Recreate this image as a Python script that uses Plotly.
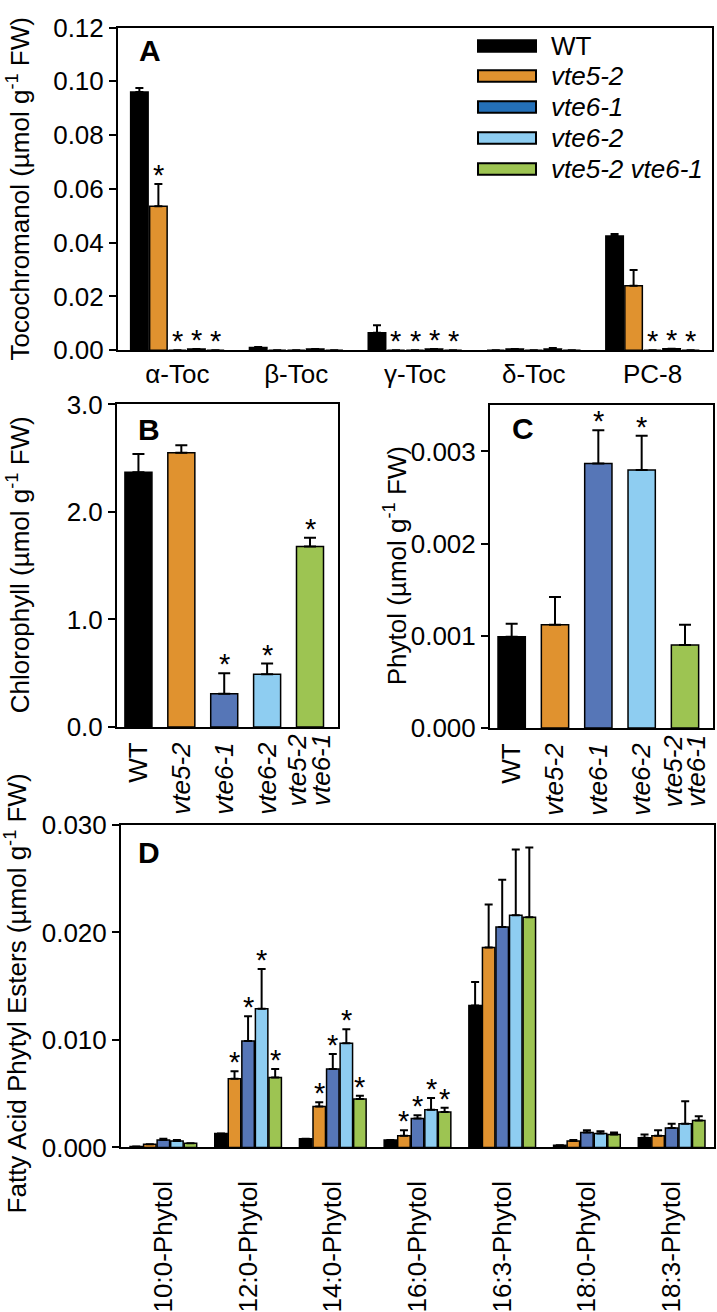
import plotly.graph_objects as go

W, H = 717, 1312
FONT = "Liberation Sans, Arial, sans-serif"

GENOTYPES = ["WT", "vte5-2", "vte6-1", "vte6-2", "vte5-2 vte6-1"]
COLORS = ["#000000", "#E0922F", "#5676B7", "#8ECDF1", "#9DC452"]
LEGEND_COLORS = ["#000000", "#E0922F", "#2470B8", "#8ECDF1", "#9DC452"]

# Panel A: tocochromanols (µmol g-1 FW)
TOC_CATS = ["α-Toc", "β-Toc", "γ-Toc", "δ-Toc", "PC-8"]
TOC_MEAN = {
    "WT": [0.0960, 0.0010, 0.0065, 0.0, 0.0425],
    "vte5-2": [0.0535, 0.0, 0.0, 0.0004, 0.0240],
    "vte6-1": [0.0, 0.0, 0.0, 0.0, 0.0],
    "vte6-2": [0.0004, 0.0004, 0.0004, 0.0004, 0.0005],
    "vte5-2 vte6-1": [0.0, 0.0, 0.0, 0.0, 0.0],
}
TOC_SE = {
    "WT": [0.0015, 0.0002, 0.0028, 0.0, 0.0007],
    "vte5-2": [0.0083, 0.0, 0.0, 0.0, 0.0058],
    "vte6-1": [0.0, 0.0, 0.0, 0.0, 0.0],
    "vte6-2": [0.0, 0.0, 0.0, 0.0004, 0.0],
    "vte5-2 vte6-1": [0.0, 0.0, 0.0, 0.0, 0.0],
}
TOC_SIG = {
    "WT": [0, 0, 0, 0, 0],
    "vte5-2": [1, 0, 1, 0, 0],
    "vte6-1": [1, 0, 1, 0, 1],
    "vte6-2": [1, 0, 1, 0, 1],
    "vte5-2 vte6-1": [1, 0, 1, 0, 1],
}

# Panel B: chlorophyll
CHL_MEAN = [2.37, 2.55, 0.31, 0.49, 1.68]
CHL_SE = [0.17, 0.07, 0.19, 0.10, 0.08]
CHL_SIG = [0, 0, 1, 1, 1]

# Panel C: free phytol
PHY_MEAN = [0.00099, 0.00112, 0.00287, 0.00280, 0.00090]
PHY_SE = [0.00014, 0.00030, 0.00036, 0.00037, 0.00022]
PHY_SIG = [0, 0, 1, 1, 0]

# Panel D: fatty acid phytyl esters
FAPE_CATS = ["10:0-Phytol", "12:0-Phytol", "14:0-Phytol", "16:0-Phytol",
             "16:3-Phytol", "18:0-Phytol", "18:3-Phytol"]
FAPE_MEAN = {
    "WT": [0.0001, 0.0013, 0.0008, 0.0007, 0.0132, 0.0002, 0.0009],
    "vte5-2": [0.0003, 0.0064, 0.0038, 0.0011, 0.0186, 0.0006, 0.0011],
    "vte6-1": [0.0007, 0.0099, 0.0073, 0.0027, 0.0205, 0.0014, 0.0018],
    "vte6-2": [0.0006, 0.0129, 0.0097, 0.0035, 0.0216, 0.0013, 0.0022],
    "vte5-2 vte6-1": [0.0004, 0.0065, 0.0045, 0.0033, 0.0214, 0.0012, 0.0025],
}
FAPE_SE = {
    "WT": [0.0, 0.0, 0.0, 0.0, 0.0022, 0.0, 0.0003],
    "vte5-2": [0.0, 0.0007, 0.0004, 0.0005, 0.0040, 0.0001, 0.0005],
    "vte6-1": [0.0001, 0.0023, 0.0014, 0.0003, 0.0044, 0.0002, 0.0004],
    "vte6-2": [0.0001, 0.0037, 0.0013, 0.0011, 0.0061, 0.0002, 0.0021],
    "vte5-2 vte6-1": [0.0, 0.0008, 0.0003, 0.0004, 0.0065, 0.0002, 0.0004],
}
FAPE_SIG = {
    "WT": [0, 0, 0, 0, 0, 0, 0],
    "vte5-2": [0, 1, 1, 1, 0, 0, 0],
    "vte6-1": [0, 1, 1, 1, 0, 0, 0],
    "vte6-2": [0, 1, 1, 1, 0, 0, 0],
    "vte5-2 vte6-1": [0, 1, 1, 1, 0, 0, 0],
}

BARGAP = 0.2
BARGROUPGAP = 0.08
STAR_SIZE = 29
STAR_SHIFT = -9
FS = 26


def px(x):
    return x / W


def py(y):
    return 1 - y / H


# panel boxes in pixels: (left, right, top, bottom)
BOX_A = (118, 712, 13, 346)
BOX_B = (117, 338, 402, 735)
BOX_C = (490, 713, 403, 736)
BOX_D = (121, 714, 836, 1169)

fig = go.Figure()
annotations = []


def star(xref, yref, x, y, xshift=0):
    annotations.append(dict(
        x=x, y=y, xref=xref, yref=yref, text="*", showarrow=False,
        xshift=xshift, yshift=STAR_SHIFT, yanchor="bottom",
        font=dict(size=STAR_SIZE, color="black", family=FONT),
    ))


def grouped_panel(axis, cats, means, ses, sigs, box, err_width):
    xa, ya = ("x", "y") if axis == 1 else (f"x{axis}", f"y{axis}")
    ncat = len(cats)
    slot = (box[1] - box[0]) / ncat * (1 - BARGAP) / len(GENOTYPES)
    for j, (g, c) in enumerate(zip(GENOTYPES, COLORS)):
        fig.add_trace(go.Bar(
            x=cats, y=means[g], xaxis=xa, yaxis=ya, name=g, offsetgroup=g,
            marker=dict(color=c, line=dict(color="black", width=1.5)),
            error_y=dict(type="data", array=ses[g], arrayminus=[0] * ncat,
                         symmetric=False, color="black", thickness=2, width=err_width),
            showlegend=False, hoverinfo="x+y",
        ))
        for cat, m, s, sig in zip(cats, means[g], ses[g], sigs[g]):
            if sig:
                star(xa, ya, cat, m + s, xshift=(j - 2) * slot)


def single_panel(axis, means, ses, sigs, box):
    xa, ya = f"x{axis}", f"y{axis}"
    fig.add_trace(go.Bar(
        x=GENOTYPES, y=means, xaxis=xa, yaxis=ya, width=0.63,
        marker=dict(color=COLORS, line=dict(color="black", width=1.5)),
        error_y=dict(type="data", array=ses, arrayminus=[0] * len(means),
                     symmetric=False, color="black", thickness=2, width=6),
        showlegend=False, hoverinfo="x+y",
    ))
    for g, m, s, sig in zip(GENOTYPES, means, ses, sigs):
        if sig:
            star(xa, ya, g, m + s)
    # two-line label of the double mutant, set tighter than a <br> would
    for part, shift in zip(GENOTYPES[-1].split(" "), (-13, 11)):
        annotations.append(dict(
            text=f"<i>{part}</i>", x=GENOTYPES[-1], y=py(box[3]), xref=xa, yref="paper",
            xshift=shift, yshift=-5, textangle=-90, showarrow=False,
            xanchor="center", yanchor="top",
            font=dict(size=FS, color="black", family=FONT),
        ))


grouped_panel(1, TOC_CATS, TOC_MEAN, TOC_SE, TOC_SIG, BOX_A, 4)
single_panel(2, CHL_MEAN, CHL_SE, CHL_SIG, BOX_B)
single_panel(3, PHY_MEAN, PHY_SE, PHY_SIG, BOX_C)
grouped_panel(4, FAPE_CATS, FAPE_MEAN, FAPE_SE, FAPE_SIG, BOX_D, 4)

tickfont = dict(size=FS, color="black", family=FONT)


def yaxis(box, rng, dtick, fmt, anchor):
    return dict(
        domain=[py(box[3]), py(box[2])], range=rng, dtick=dtick, tickformat=fmt,
        showline=True, linecolor="black", linewidth=2, mirror=True,
        ticks="outside", ticklen=7, tickwidth=2, tickcolor="black",
        showgrid=False, zeroline=False, tickfont=tickfont, anchor=anchor,
    )


def xaxis(box, anchor, ticklen, **kw):
    d = dict(
        domain=[px(box[0]), px(box[1])], anchor=anchor,
        showline=True, linecolor="black", linewidth=2, mirror=True,
        ticks="outside" if ticklen else "", ticklen=ticklen, tickcolor="rgba(0,0,0,0)",
        showgrid=False, zeroline=False, tickfont=tickfont, type="category",
    )
    d.update(kw)
    return d


geno_ticks = ["WT"] + [f"<i>{g}</i>" for g in GENOTYPES[1:-1]] + [" "]

fig.update_layout(
    width=W, height=H,
    margin=dict(l=0, r=0, t=0, b=0),
    paper_bgcolor="white", plot_bgcolor="white",
    barmode="group", bargap=BARGAP, bargroupgap=BARGROUPGAP,
    font=dict(family=FONT, color="black"),
    showlegend=False,
    xaxis=xaxis(BOX_A, "y", 0),
    yaxis=yaxis(BOX_A, [0, 0.12], 0.02, ".2f", "x"),
    xaxis2=xaxis(BOX_B, "y2", 3, tickangle=-90, tickvals=GENOTYPES, ticktext=geno_ticks),
    yaxis2=yaxis(BOX_B, [0, 3.0], 1.0, ".1f", "x2"),
    xaxis3=xaxis(BOX_C, "y3", 3, tickangle=-90, tickvals=GENOTYPES, ticktext=geno_ticks),
    yaxis3=yaxis(BOX_C, [0, 0.0035], 0.001, ".3f", "x3"),
    xaxis4=xaxis(BOX_D, "y4", 21, tickangle=-90),
    yaxis4=yaxis(BOX_D, [0, 0.030], 0.010, ".3f", "x4"),
)

# y-axis titles
titlefont = dict(size=FS, color="black", family=FONT)
for text, x, y in [
    ("Tocochromanol (µmol g<sup>-1</sup> FW)", 18, 180),
    ("Chlorophyll (µmol g<sup>-1</sup> FW)", 18, 568),
    ("Phytol (µmol g<sup>-1</sup> FW)", 395, 569),
    ("Fatty Acid Phytyl Esters (µmol g<sup>-1</sup> FW)", 16, 1010),
]:
    annotations.append(dict(
        text=text, x=px(x), y=py(y), xref="paper", yref="paper",
        textangle=-90, showarrow=False, xanchor="center", yanchor="middle",
        font=titlefont,
    ))

# panel letters
for letter, x, y in [("A", 150, 37), ("B", 149, 428), ("C", 523, 427), ("D", 149, 865)]:
    annotations.append(dict(
        text=f"<b>{letter}</b>", x=px(x), y=py(y), xref="paper", yref="paper",
        showarrow=False, xanchor="center", yanchor="middle",
        font=dict(size=30, color="black", family=FONT),
    ))

# legend in panel A
shapes = []
row_y = [32, 63, 95, 127, 159]
for g, c, y in zip(GENOTYPES, LEGEND_COLORS, row_y):
    shapes.append(dict(
        type="rect", xref="paper", yref="paper",
        x0=px(478), x1=px(536), y0=py(y + 6), y1=py(y - 6),
        fillcolor=c, line=dict(color="black", width=2),
    ))
    label = "WT" if g == "WT" else f"<i>{g}</i>"
    annotations.append(dict(
        text=label, x=px(549), y=py(y), xref="paper", yref="paper",
        showarrow=False, xanchor="left", yanchor="middle",
        font=dict(size=FS, color="black", family=FONT),
    ))

fig.update_layout(annotations=annotations, shapes=shapes)

fig.write_html(
    "out.html",
    config={"displayModeBar": False},
    post_script="document.body.style.margin='0';document.body.style.overflow='hidden';",
)
